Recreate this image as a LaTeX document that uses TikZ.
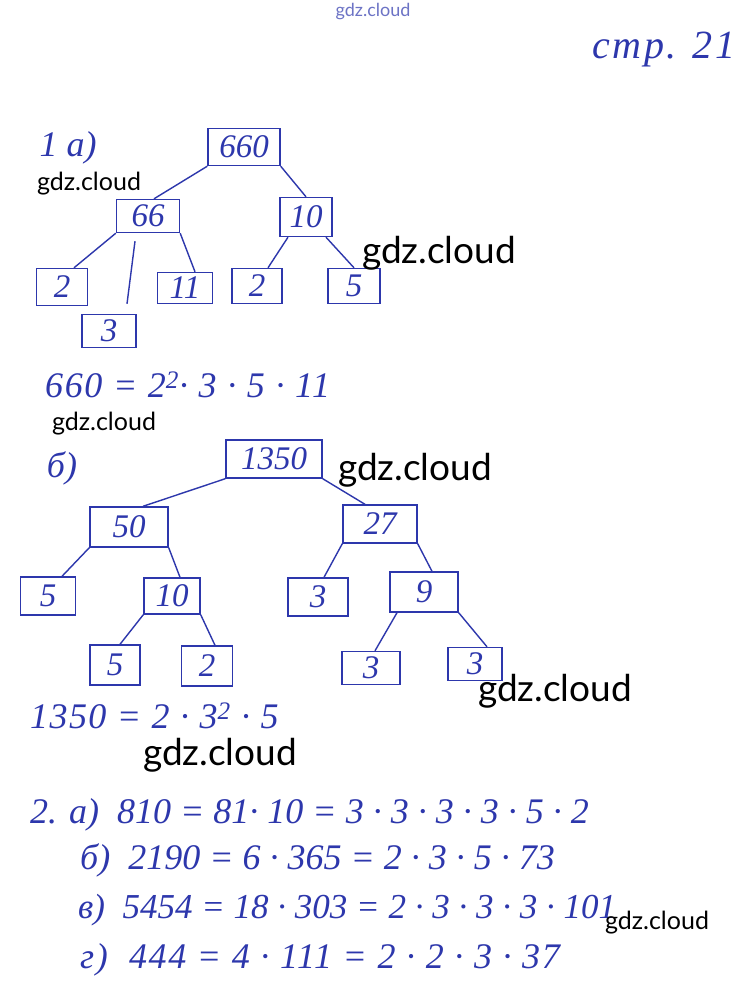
\documentclass[tikz,border=0pt]{standalone}
\usepackage{fontspec}
\setmainfont{Liberation Serif}
\newfontfamily\wmfont{Lato}
\definecolor{ink}{RGB}{45,55,172}
\begin{document}
\begin{tikzpicture}[x=1pt,y=-1pt,
  hw/.style={font=\itshape\fontsize{33}{33}\selectfont, text=ink},
  eq/.style={font=\itshape\fontsize{36}{36}\selectfont, text=ink, anchor=west, inner sep=0pt},
  box/.style={hw, draw=ink, line width=1.4pt, rectangle, inner sep=0pt},
  edge/.style={draw=ink, line width=1.4pt},
  wmbig/.style={font=\wmfont\fontsize{37}{37}\selectfont, text=black, inner sep=0pt},
  wmsmall/.style={font=\wmfont\fontsize{25}{25}\selectfont, text=black, inner sep=0pt}
]
\useasboundingbox (0,0) rectangle (747,994);
\fill[white] (0,0) rectangle (747,994);

% header
\node[font=\wmfont\fontsize{18}{18}\selectfont, text=ink!70, inner sep=0pt] (wtop) at (373,12) {gdz.cloud};
\node[hw, font=\itshape\fontsize{40}{40}\selectfont\addfontfeature{LetterSpace=6}] (page) at (664,50) {стр. 21};

% part 1 a
\node[hw, font=\itshape\fontsize{36}{36}\selectfont] (l1a) at (68,148) {1 а)};
\node[box, minimum width=72pt, minimum height=37pt] (a660) at (244,147) {660};
\node[box, minimum width=63pt, minimum height=33pt] (a66) at (148,216) {66};
\node[box, minimum width=52pt, minimum height=39pt] (a10) at (306,217) {10};
\node[box, minimum width=51pt, minimum height=37pt] (a2l) at (62,287) {2};
\node[box, minimum width=54pt, minimum height=33pt] (a3) at (109,331) {3};
\node[box, minimum width=55pt, minimum height=31pt] (a11) at (185,288) {11};
\node[box, minimum width=50pt, minimum height=35pt] (a2r) at (257,286) {2};
\node[box, minimum width=52pt, minimum height=35pt] (a5) at (354,286) {5};

\draw[edge] (a660.south west) -- ([xshift=6pt]a66.north);
\draw[edge] (a660.south east) -- (a10.north);
\draw[edge] (a66.south west) -- ([xshift=12pt]a2l.north);
\draw[edge] ([xshift=-13pt,yshift=-8pt]a66.south) -- ([xshift=18pt,yshift=10pt]a3.north);
\draw[edge] (a66.south east) -- ([xshift=10pt]a11.north);
\draw[edge] ([xshift=-18pt]a10.south) -- ([xshift=11pt]a2r.north);
\draw[edge] ([xshift=20pt]a10.south) -- (a5.north);

\node[eq, font=\itshape\fontsize{36}{36}\selectfont\addfontfeature{LetterSpace=4.5}] (eqa) at (45,385) {660 = 2\textsuperscript{2}· 3 · 5 · 11};

% part 1 b
\node[hw, font=\itshape\fontsize{36}{36}\selectfont] (l1b) at (62,468) {б)};
\node[box, minimum width=96pt, minimum height=38pt] (b1350) at (274,459) {1350};
\node[box, minimum width=78pt, minimum height=40pt] (b50) at (129,527) {50};
\node[box, minimum width=74pt, minimum height=38pt] (b27) at (380,524) {27};
\node[box, minimum width=55pt, minimum height=38pt] (b5a) at (48,596) {5};
\node[box, minimum width=56pt, minimum height=36pt] (b10) at (172,596) {10};
\node[box, minimum width=60pt, minimum height=38pt] (b3a) at (318,597) {3};
\node[box, minimum width=68pt, minimum height=40pt] (b9) at (424,592) {9};
\node[box, minimum width=50pt, minimum height=40pt] (b5b) at (115,665) {5};
\node[box, minimum width=51pt, minimum height=40pt] (b2) at (207,666) {2};
\node[box, minimum width=58pt, minimum height=33pt] (b3b) at (371,668) {3};
\node[box, minimum width=54pt, minimum height=33pt] (b3c) at (475,664) {3};

\draw[edge] (b1350.south west) -- ([xshift=14pt]b50.north);
\draw[edge] (b1350.south east) -- ([xshift=-15pt]b27.north);
\draw[edge] (b50.south west) -- ([xshift=14pt]b5a.north);
\draw[edge] (b50.south east) -- ([xshift=8pt]b10.north);
\draw[edge] (b10.south west) -- ([xshift=5pt]b5b.north);
\draw[edge] (b10.south east) -- ([xshift=8pt]b2.north);
\draw[edge] (b27.south west) -- ([xshift=6pt]b3a.north);
\draw[edge] (b27.south east) -- ([xshift=8pt]b9.north);
\draw[edge] ([xshift=-27pt]b9.south) -- ([xshift=4pt]b3b.north);
\draw[edge] (b9.south east) -- ([xshift=12pt]b3c.north);

\node[eq, font=\itshape\fontsize{36}{36}\selectfont\addfontfeature{LetterSpace=4}] (eqb) at (30,716) {1350 = 2 · 3\textsuperscript{2} · 5};

% part 2
\node[eq] (p2a) at (30,815) {2. а)\ \ 810 = 81· 10 = 3 · 3 · 3 · 3 · 5 · 2};
\node[eq] (p2b) at (80,860) {б)\ \ 2190 = 6 · 365 = 2 · 3 · 5 · 73};
\node[eq, font=\itshape\fontsize{35}{35}\selectfont] (p2c) at (78,910) {в)\ \ 5454 = 18 · 303 = 2 · 3 · 3 · 3 · 101};
\node[eq, font=\itshape\fontsize{36}{36}\selectfont\addfontfeature{LetterSpace=4.5}] (p2d) at (80,960) {г)\ \ 444 = 4 · 111 = 2 · 2 · 3 · 37};

% watermarks
\node[wmsmall] (w1) at (89,184) {gdz.cloud};
\node[wmbig] (w2) at (439,253) {gdz.cloud};
\node[wmsmall] (w3) at (104,424) {gdz.cloud};
\node[wmbig] (w4) at (415,470) {gdz.cloud};
\node[wmbig] (w5) at (555,691) {gdz.cloud};
\node[wmbig] (w6) at (220,755) {gdz.cloud};
\node[wmsmall] (w7) at (657,923) {gdz.cloud};
\end{tikzpicture}
\end{document}
